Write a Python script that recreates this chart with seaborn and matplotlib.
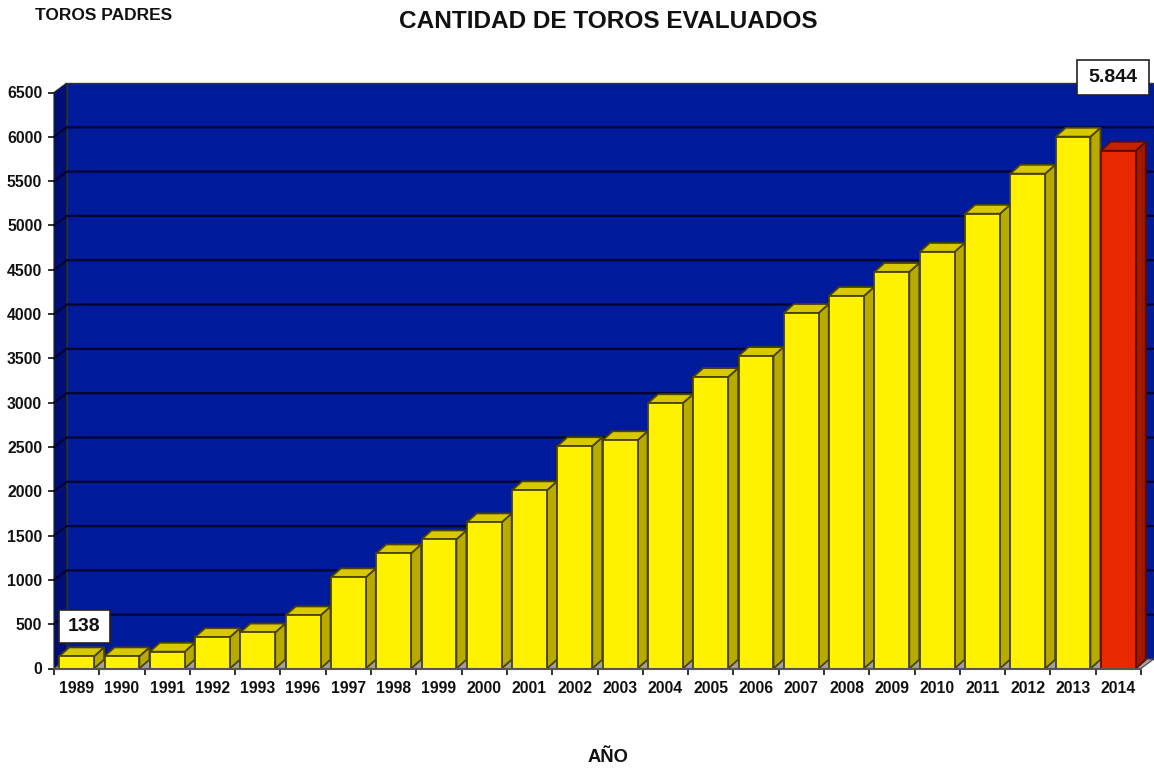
import matplotlib
matplotlib.use("Agg")
import matplotlib.pyplot as plt
from matplotlib.patches import Polygon, Rectangle
import pandas as pd
import seaborn as sns

years = ["1989", "1990", "1991", "1992", "1993", "1996", "1997", "1998", "1999", "2000", "2001", "2002",
         "2003", "2004", "2005", "2006", "2007", "2008", "2009", "2010", "2011", "2012", "2013", "2014"]
toros = [138, 138, 190, 355, 407, 600, 1030, 1300, 1458, 1650, 2012, 2510,
         2577, 2995, 3290, 3527, 4013, 4205, 4476, 4702, 5132, 5584, 6002, 5844]
yticks = list(range(0, 7000, 500))

W, H = 1154, 770
YELLOW = ("#FFF200", "#B8AB00", "#D8C800")
RED = ("#E82800", "#A01800", "#C42200")
WALL = "#001A9C"
WALL_SIDE = "#000F78"
EDGE = "#4A4300"
TEXT = "#111111"

sns.set_theme(style="white")
plt.rcParams["font.family"] = ["Liberation Sans", "DejaVu Sans"]
plt.rcParams["font.weight"] = "bold"

fig = plt.figure(figsize=(W / 100, H / 100), dpi=100)
ax = fig.add_axes([54 / W, (H - 668.5) / H, 1087 / W, 576 / H])

df = pd.DataFrame({"year": years, "toros": toros})
palette = [RED[0] if y == "2014" else YELLOW[0] for y in years]
sns.barplot(data=df, x="year", y="toros", hue="year", palette=palette, dodge=False,
            legend=False, width=0.77, saturation=1, edgecolor=EDGE, linewidth=1.3, ax=ax)
bars = list(ax.patches)

ax.set_xlim(-0.5, 23.5)
ax.set_ylim(0, 6500)

# depth of the fake 3D, in data units
wall_dx, wall_dy = 0.28, 107
bar_dx, bar_dy = 0.22, 100

x0, x1 = -0.5, 23.5
top = 6500
ax.add_patch(Polygon([(x0 + wall_dx, wall_dy), (x1 + wall_dx, wall_dy), (x1 + wall_dx, top + wall_dy), (x0 + wall_dx, top + wall_dy)],
                     fc=WALL, ec="#333333", lw=1, zorder=0.5, clip_on=False))
ax.add_patch(Polygon([(x0, 0), (x0 + wall_dx, wall_dy), (x0 + wall_dx, top + wall_dy), (x0, top)],
                     fc=WALL_SIDE, ec="#222222", lw=0.8, zorder=0.6, clip_on=False))
ax.add_patch(Polygon([(x0, 0), (x1, 0), (x1 + wall_dx, wall_dy), (x0 + wall_dx, wall_dy)],
                     fc="#A0A0A8", ec="#444444", lw=0.8, zorder=0.7, clip_on=False))

for v in yticks[1:-1]:
    ax.plot([x0, x0 + wall_dx, x1 + wall_dx], [v, v + wall_dy, v + wall_dy], color="#04062E", lw=1.6,
            zorder=0.8, clip_on=False, solid_joinstyle="miter")

for i, b in enumerate(bars):
    cols = RED if years[i] == "2014" else YELLOW
    edge = "#5A1000" if years[i] == "2014" else EDGE
    b.set_edgecolor(edge)
    l, r, h = b.get_x(), b.get_x() + b.get_width(), b.get_height()
    b.set_zorder(3)
    ax.add_patch(Polygon([(r, 0), (r + bar_dx, bar_dy), (r + bar_dx, h + bar_dy), (r, h)],
                         fc=cols[1], ec=edge, lw=1.3, zorder=2, clip_on=False))
    ax.add_patch(Polygon([(l, h), (r, h), (r + bar_dx, h + bar_dy), (l + bar_dx, h + bar_dy)],
                         fc=cols[2], ec=edge, lw=1.3, zorder=2, clip_on=False))

sns.despine(ax=ax, left=True, bottom=True, top=True, right=True)
ax.plot([x0, x1], [0, 0], color="#555555", lw=1.5, zorder=4, clip_on=False)

ax.set_xlabel("")
ax.set_ylabel("")
ax.set_yticks(yticks)
ax.tick_params(axis="y", length=4, width=1.2, color=TEXT, left=True, pad=4.5, labelsize=11.3)
ax.set_xticks(range(len(years)), years)
ax.set_xticks([i - 0.5 for i in range(len(years) + 1)], minor=True)
ax.tick_params(axis="x", which="major", length=0, pad=9, labelsize=11.3)
ax.tick_params(axis="x", which="minor", length=4, width=1.2, color=TEXT, bottom=True)
for t in ax.get_xticklabels() + ax.get_yticklabels():
    t.set_color(TEXT)
    t.set_fontweight("bold")
for t in ax.get_yticklabels():
    t.set_verticalalignment("center_baseline")


def label_box(x0_px, y0_px, x1_px, y1_px, text):
    fig.add_artist(Rectangle((x0_px / W, 1 - y1_px / H), (x1_px - x0_px) / W, (y1_px - y0_px) / H,
                             transform=fig.transFigure, fc="white", ec="#222222", lw=1.2, zorder=10))
    fig.text((x0_px + x1_px) / 2 / W, 1 - (y0_px + y1_px) / 2 / H, text, ha="center", va="center",
             fontsize=14, fontweight="bold", color=TEXT, zorder=11)


label_box(58.5, 610, 110, 643, "138")
label_box(1077, 60, 1149, 95, "5.844")

fig.text(608 / W, 1 - 21.5 / H, "CANTIDAD DE TOROS EVALUADOS", ha="center", va="center", fontsize=17.6, fontweight="bold", color=TEXT)
fig.text(103.5 / W, 1 - 15 / H, "TOROS PADRES", ha="center", va="center", fontsize=12.5, fontweight="bold", color=TEXT)
fig.text(608 / W, 1 - 757 / H, "AÑO", ha="center", va="center", fontsize=13.2, fontweight="bold", color=TEXT)

fig.savefig("out.png", dpi=100)
